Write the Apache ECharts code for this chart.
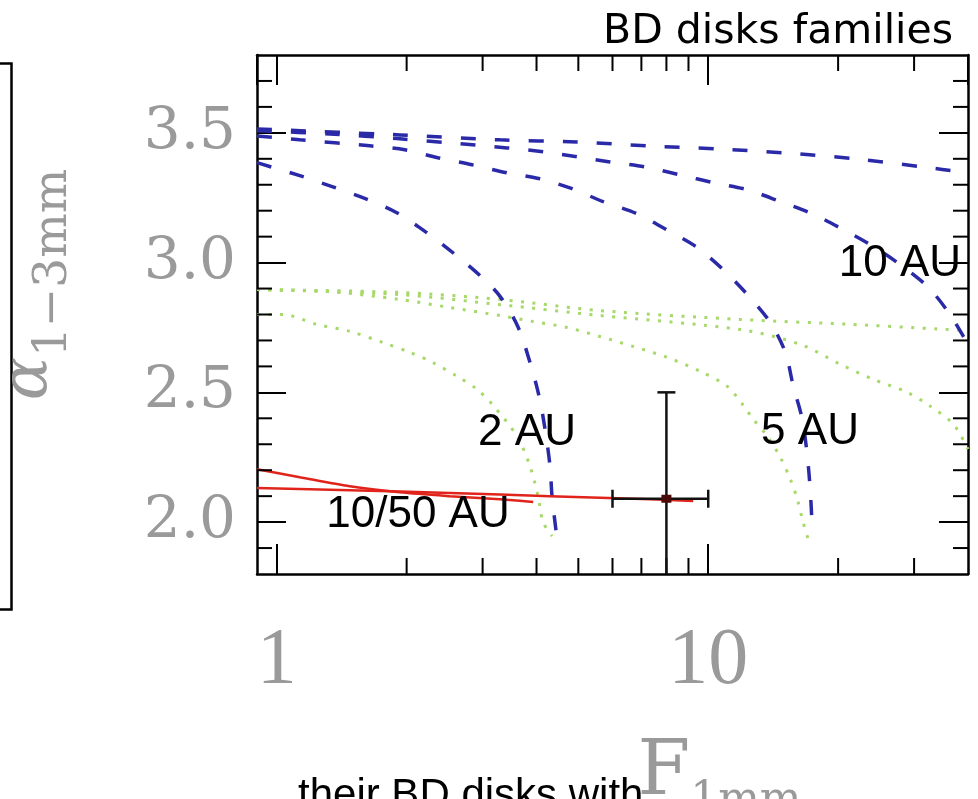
<!DOCTYPE html>
<html><head><meta charset="utf-8">
<script src="https://cdn.jsdelivr.net/npm/echarts@6/dist/echarts.min.js"></script>
<style>html,body{margin:0;padding:0;background:#fff}#c{width:978px;height:799px}</style>
</head><body><div id="c"></div>
<script>
// axis ranges and tick values
const X_MIN = 0.9, X_MAX = 40, Y_MIN = 1.8, Y_MAX = 3.8;
const xMinorTicks = [2, 3, 4, 5, 6, 7, 8, 9, 20, 30];
const yMajorTicks = [2.0, 2.5, 3.0, 3.5];
const yMinorTicks = [1.9, 2.1, 2.2, 2.3, 2.4, 2.6, 2.7, 2.8, 2.9, 3.1, 3.2, 3.3, 3.4, 3.6, 3.7];

// blue dashed model families  [F1mm, alpha]
const blue2AU = [[0.9,3.385],[1.131,3.335],[1.349,3.292],[1.583,3.250],[1.898,3.192],[2.229,3.115],[2.561,3.038],[2.958,2.95],[3.292,2.87],[3.624,2.752],[3.864,2.615],[4.055,2.485],[4.186,2.358],[4.299,2.215],[4.345,2.100],[4.463,1.935]];
const blue5AU = [[0.9,3.488],[1.131,3.473],[1.643,3.450],[1.981,3.435],[2.363,3.404],[2.835,3.377],[3.418,3.346],[4.076,3.323],[4.836,3.285],[5.706,3.235],[6.843,3.188],[8.162,3.119],[9.429,3.058],[10.83,2.973],[12.32,2.877],[13.93,2.769],[15.09,2.654],[15.75,2.523],[16.52,2.396],[16.97,2.254],[17.25,2.115],[17.43,1.965]];
const blue10AU = [[0.9,3.508],[1.327,3.496],[1.929,3.477],[2.658,3.458],[3.418,3.442],[4.142,3.427],[4.966,3.408],[5.925,3.388],[7.142,3.369],[8.611,3.338],[10.27,3.308],[12.32,3.281],[14.69,3.235],[17.43,3.188],[20.57,3.127],[23.76,3.069],[27.45,3.000],[32.22,2.908],[36.06,2.808],[39.05,2.715],[40,2.685]];
const blue50AU = [[0.9,3.515],[1.929,3.492],[3.292,3.473],[4.966,3.465],[7.22,3.450],[10.49,3.438],[14.93,3.423],[21.93,3.400],[31.37,3.369],[40,3.346]];

// green dotted model families
const green2AU = [[0.9,2.80],[1.033,2.80],[1.238,2.762],[1.477,2.735],[1.762,2.692],[2.035,2.654],[2.301,2.615],[2.616,2.562],[2.911,2.512],[3.171,2.45],[3.604,2.331],[3.864,2.215],[4.033,2.10],[4.142,2.0],[4.345,1.946]];
const green5AU = [[0.9,2.896],[1.327,2.888],[1.929,2.858],[2.52,2.827],[3.292,2.796],[3.926,2.773],[4.708,2.750],[5.615,2.715],[6.698,2.677],[8.032,2.635],[9.581,2.581],[11.07,2.523],[12.06,2.45],[12.72,2.396],[13.71,2.331],[14.69,2.250],[15.5,2.165],[16.09,2.088],[16.52,2.012],[17.06,1.935],[17.52,1.915]];
const green10AU = [[0.9,2.896],[1.929,2.877],[3.292,2.838],[5.615,2.796],[11.87,2.742],[16.35,2.685],[20.24,2.608],[24.14,2.55],[28.94,2.5],[32.74,2.446],[37.02,2.377],[40,2.281]];
const green50AU = [[0.9,2.896],[1.929,2.885],[3.292,2.858],[5.615,2.815],[11.87,2.781],[21.35,2.762],[40,2.738]];

// red solid 10/50 AU families
const red10AU = [[0.9,2.204],[1.131,2.173],[1.477,2.138],[1.929,2.115],[2.52,2.10],[3.292,2.088],[3.93,2.077]];
const red50AU = [[0.9,2.131],[1.477,2.123],[2.52,2.112],[4.299,2.10],[7.336,2.088],[9.23,2.081]];

// observed point: [F1mm, alpha, F low, F high, alpha low, alpha high]
const observed = [[8.0, 2.09, 6.0, 10.0, 1.7, 2.5]];

// annotation texts
const curveLabels = [
  { text: '10 AU', x: 900, y: 264 },
  { text: '5 AU', x: 810, y: 432 },
  { text: '2 AU', x: 527, y: 433 },
  { text: '10/50 AU', x: 418, y: 515 }
];

const GRAY = '#9a9a9a';
const BLUE = '#2a2aa8', GREEN = '#a6d86a', RED = '#e0241c';

const chart = echarts.init(document.getElementById('c'));

function lineSeries(name, data, color, type) {
  const style = { color: color, width: 2.5 };
  if (type === 'dashed') { style.width = 3.5; style.type = [15, 19]; }
  if (type === 'dotted') { style.width = 3; style.type = [3, 8.5]; }
  return {
    name: name, type: 'line', data: data, showSymbol: false, smooth: 0.3,
    lineStyle: style, silent: true, animation: false, z: type === 'dotted' ? 2 : 3
  };
}

const frameLine = { show: true, onZero: false, lineStyle: { color: '#000', width: 2.5 } };

const option = {
  backgroundColor: '#fff',
  animation: false,
  title: {
    text: 'BD disks families', right: 20, top: 7,
    textStyle: { fontFamily: 'DejaVu Sans', fontSize: 41, fontWeight: 'normal', color: '#000' }
  },
  grid: { left: 257, right: 10, top: 55, bottom: 225, containLabel: false, outerBoundsMode: 'none' },
  xAxis: [
    {
      type: 'log', logBase: 10, min: X_MIN, max: X_MAX, position: 'bottom',
      axisLine: frameLine,
      axisTick: { show: true, inside: true, length: 30, lineStyle: { color: '#000', width: 2 } },
      axisLabel: {
        showMinLabel: false, showMaxLabel: false, margin: 48,
        formatter: v => String(Math.round(v)),
        fontFamily: 'Liberation Serif', fontSize: 80, color: GRAY
      },
      splitLine: { show: false }, minorTick: { show: false },
      name: '{a|F}{b|1mm}', nameLocation: 'middle', nameGap: 150,
      nameTextStyle: {
        padding: [0, 0, 0, 214],
        rich: {
          a: { fontFamily: 'DejaVu Serif', fontSize: 76, color: GRAY },
          b: { fontFamily: 'DejaVu Serif', fontSize: 44, color: GRAY, padding: [56, 0, 0, 0] }
        }
      }
    },
    {
      type: 'log', logBase: 10, min: X_MIN, max: X_MAX, position: 'top',
      axisLine: frameLine,
      axisTick: { show: true, inside: true, length: 30, lineStyle: { color: '#000', width: 2 } },
      axisLabel: { show: false }, splitLine: { show: false }
    }
  ],
  yAxis: [
    {
      type: 'value', min: Y_MIN, max: Y_MAX, position: 'left',
      axisLine: frameLine,
      axisTick: { show: true, inside: true, length: 29, customValues: yMajorTicks, lineStyle: { color: '#000', width: 2 } },
      axisLabel: {
        customValues: yMajorTicks, margin: 21,
        formatter: v => Number(v).toFixed(1),
        fontFamily: 'DejaVu Serif', fontSize: 58, color: GRAY
      },
      splitLine: { show: false },
      name: '{a|α}{b|1−3mm}', nameLocation: 'middle', nameRotate: 90, nameGap: 180,
      nameTextStyle: {
        padding: [0, 0, 0, 60],
        rich: {
          a: { fontFamily: 'DejaVu Serif', fontStyle: 'italic', fontSize: 64, color: GRAY },
          b: { fontFamily: 'DejaVu Serif', fontSize: 47, color: GRAY, padding: [48, 0, 0, 0] }
        }
      }
    },
    {
      type: 'value', min: Y_MIN, max: Y_MAX, position: 'right',
      axisLine: frameLine,
      axisTick: { show: true, inside: true, length: 29, customValues: yMajorTicks, lineStyle: { color: '#000', width: 2 } },
      axisLabel: { show: false }, splitLine: { show: false }
    }
  ],
  graphic: [
    // decorative box edge cropped at the left of the figure
    { type: 'rect', left: -20, top: 61, shape: { width: 29, height: 546 }, style: { fill: 'none', stroke: '#000', lineWidth: 2.5 }, silent: true },
    // caption line cut at the bottom of the figure
    { type: 'text', left: 298, top: 775, style: { text: 'their BD disks with', font: '42px "Liberation Sans"', fill: '#000' }, silent: true }
  ].concat(curveLabels.map(l => ({
    type: 'text', x: l.x, y: l.y, z: 100,
    style: { text: l.text, font: '44px "Liberation Sans"', fill: '#000', align: 'center', verticalAlign: 'middle' },
    silent: true
  }))),
  series: [
    lineSeries('green 2 AU', green2AU, GREEN, 'dotted'),
    lineSeries('green 5 AU', green5AU, GREEN, 'dotted'),
    lineSeries('green 10 AU', green10AU, GREEN, 'dotted'),
    lineSeries('green 50 AU', green50AU, GREEN, 'dotted'),
    lineSeries('blue 2 AU', blue2AU, BLUE, 'dashed'),
    lineSeries('blue 5 AU', blue5AU, BLUE, 'dashed'),
    lineSeries('blue 10 AU', blue10AU, BLUE, 'dashed'),
    lineSeries('blue 50 AU', blue50AU, BLUE, 'dashed'),
    lineSeries('red 10 AU', red10AU, RED, 'solid'),
    lineSeries('red 50 AU', red50AU, RED, 'solid'),
    {
      // x minor ticks (log positions), bottom and top
      type: 'custom', silent: true, clip: false, z: 5,
      data: xMinorTicks.map(v => [v, Y_MIN]),
      renderItem: (params, api) => {
        const b = api.coord([api.value(0), Y_MIN]);
        const t = api.coord([api.value(0), Y_MAX]);
        const st = { stroke: '#000', lineWidth: 2 };
        return { type: 'group', children: [
          { type: 'line', shape: { x1: b[0], y1: b[1], x2: b[0], y2: b[1] - 16 }, style: st },
          { type: 'line', shape: { x1: t[0], y1: t[1], x2: t[0], y2: t[1] + 16 }, style: st }
        ] };
      }
    },
    {
      // y minor ticks, left and right
      type: 'custom', silent: true, clip: false, z: 5,
      data: yMinorTicks.map(v => [X_MIN, v]),
      renderItem: (params, api) => {
        const l = api.coord([X_MIN, api.value(1)]);
        const r = api.coord([X_MAX, api.value(1)]);
        const st = { stroke: '#000', lineWidth: 2 };
        return { type: 'group', children: [
          { type: 'line', shape: { x1: l[0], y1: l[1], x2: l[0] + 15, y2: l[1] }, style: st },
          { type: 'line', shape: { x1: r[0], y1: r[1], x2: r[0] - 15, y2: r[1] }, style: st }
        ] };
      }
    },
    {
      // observed point with error bars
      type: 'custom', silent: true, clip: true, z: 6,
      data: observed,
      renderItem: (params, api) => {
        const c = api.coord([api.value(0), api.value(1)]);
        const xl = api.coord([api.value(2), api.value(1)]);
        const xh = api.coord([api.value(3), api.value(1)]);
        const yl = api.coord([api.value(0), api.value(4)]);
        const yh = api.coord([api.value(0), api.value(5)]);
        const st = { stroke: '#111', lineWidth: 2.5 };
        const cap = 9;
        return { type: 'group', children: [
          { type: 'line', shape: { x1: yl[0], y1: yl[1], x2: yh[0], y2: yh[1] }, style: st },
          { type: 'line', shape: { x1: xl[0], y1: xl[1], x2: xh[0], y2: xh[1] }, style: st },
          { type: 'line', shape: { x1: yh[0] - cap, y1: yh[1], x2: yh[0] + cap, y2: yh[1] }, style: st },
          { type: 'line', shape: { x1: yl[0] - cap, y1: yl[1], x2: yl[0] + cap, y2: yl[1] }, style: st },
          { type: 'line', shape: { x1: xl[0], y1: xl[1] - cap, x2: xl[0], y2: xl[1] + cap }, style: st },
          { type: 'line', shape: { x1: xh[0], y1: xh[1] - cap, x2: xh[0], y2: xh[1] + cap }, style: st },
          { type: 'rect', shape: { x: c[0] - 5, y: c[1] - 4, width: 10, height: 8 }, style: { fill: '#4a0808' } }
        ] };
      }
    }
  ]
};
chart.setOption(option);
</script></body></html>
